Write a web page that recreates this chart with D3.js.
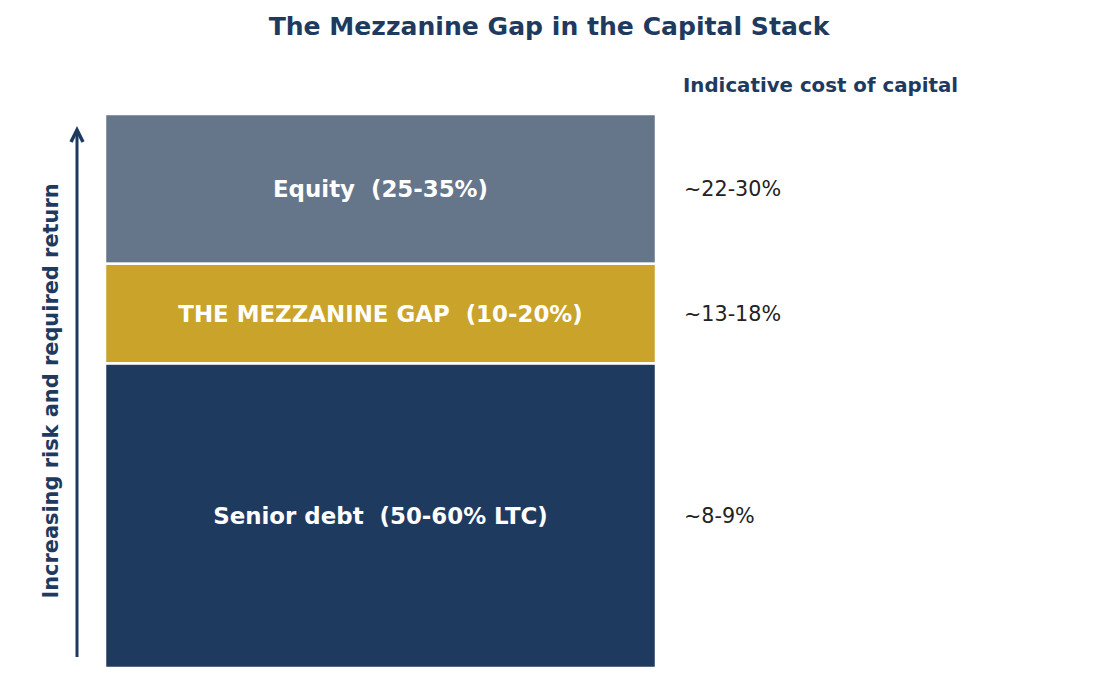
<!DOCTYPE html>
<html>
<head>
<meta charset="utf-8">
<script src="https://cdn.jsdelivr.net/npm/d3@7"></script>
<style>
  body { margin: 0; background: #fff; }
  svg { font-family: "DejaVu Sans", sans-serif; }
</style>
</head>
<body>
<svg id="chart" width="1099" height="685"></svg>
<script>
// Chart data (bottom to top of the stack)
let layers = ["Senior debt  (50-60% LTC)", "THE MEZZANINE GAP  (10-20%)", "Equity  (25-35%)"]
let shares = [55, 18, 27]
let costs = ["~8-9%", "~13-18%", "~22-30%"]
let layerColors = ["#1f3a5f", "#caa32a", "#65758a"]

let navy = "#1f3a5f"

let svg = d3.select("#chart")

let x = d3.scaleBand()
    .domain(["stack"])
    .range([105, 656])
    .padding(0)

let y = d3.scaleLinear()
    .domain([0, d3.sum(shares)])
    .range([668, 114])

// stacked offsets
let stacked = []
let run = 0
shares.forEach((v, i) => {
    stacked.push({ name: layers[i], cost: costs[i], color: layerColors[i], y0: run, y1: run + v })
    run += v
})

svg.selectAll("rect.layer")
    .data(stacked)
    .enter()
    .append("rect")
    .attr("class", "layer")
    .attr("x", x("stack"))
    .attr("width", x.bandwidth())
    .attr("y", d => y(d.y1))
    .attr("height", d => y(d.y0) - y(d.y1))
    .attr("fill", d => d.color)
    .attr("stroke", "#fff")
    .attr("stroke-width", 2.5)

// labels inside blocks
svg.selectAll("text.layer-label")
    .data(stacked)
    .enter()
    .append("text")
    .attr("class", "layer-label")
    .attr("x", x("stack") + x.bandwidth() / 2)
    .attr("y", d => y((d.y0 + d.y1) / 2))
    .attr("dy", "0.36em")
    .attr("text-anchor", "middle")
    .attr("fill", "#fff")
    .attr("font-weight", "bold")
    .attr("font-size", "22.9px")
    .style("white-space", "pre")
    .text(d => d.name)

// cost of capital labels
svg.selectAll("text.cost")
    .data(stacked)
    .enter()
    .append("text")
    .attr("class", "cost")
    .attr("x", 684)
    .attr("y", d => y((d.y0 + d.y1) / 2))
    .attr("dy", "0.36em")
    .attr("fill", "#222")
    .attr("font-size", "20.7px")
    .text(d => d.cost)

svg.append("text")
    .attr("x", 683)
    .attr("y", 85)
    .attr("dy", "0.36em")
    .attr("fill", navy)
    .attr("font-weight", "bold")
    .attr("font-size", "19.8px")
    .text("Indicative cost of capital")

// title
svg.append("text")
    .attr("x", 549)
    .attr("y", 26)
    .attr("dy", "0.36em")
    .attr("text-anchor", "middle")
    .attr("fill", navy)
    .attr("font-weight", "bold")
    .attr("font-size", "25.1px")
    .text("The Mezzanine Gap in the Capital Stack")

// risk arrow
let arrowX = 77
svg.append("line")
    .attr("x1", arrowX).attr("x2", arrowX)
    .attr("y1", 657).attr("y2", 132)
    .attr("stroke", navy)
    .attr("stroke-width", 3)

svg.append("path")
    .attr("d", `M${arrowX - 6},${142} L${arrowX},${130} L${arrowX + 6},${142}`)
    .attr("fill", "none")
    .attr("stroke", navy)
    .attr("stroke-width", 3.5)
    .attr("stroke-linejoin", "miter")

svg.append("text")
    .attr("transform", "translate(50,391) rotate(-90)")
    .attr("dy", "0.36em")
    .attr("text-anchor", "middle")
    .attr("fill", navy)
    .attr("font-weight", "bold")
    .attr("font-size", "20.9px")
    .text("Increasing risk and required return")
</script>
</body>
</html>
